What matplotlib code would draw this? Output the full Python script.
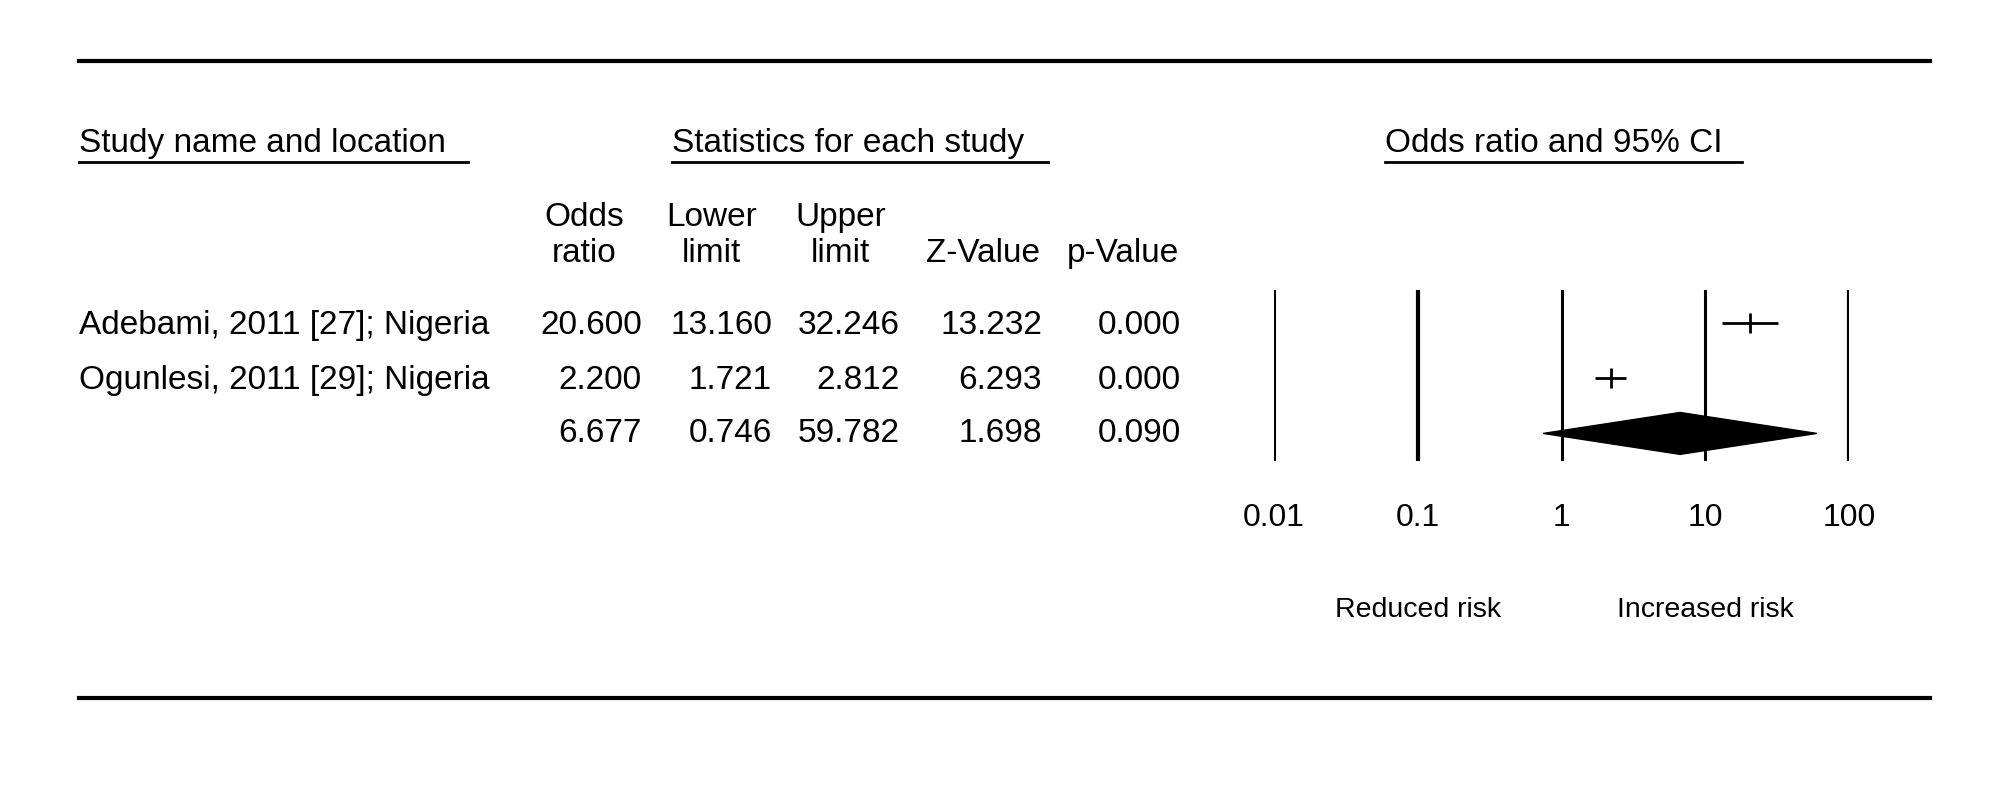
import numpy as np
import matplotlib
matplotlib.use("Agg")
import matplotlib.pyplot as plt
import matplotlib.transforms as mtransforms
from matplotlib.patches import Polygon

plt.rcParams['font.family'] = ['Liberation Sans', 'DejaVu Sans']

# data
studies = ["Adebami, 2011 [27]; Nigeria", "Ogunlesi, 2011 [29]; Nigeria"]
odds_ratio = [20.600, 2.200]
lower = [13.160, 1.721]
upper = [32.246, 2.812]
z_value = [13.232, 6.293]
p_value = [0.000, 0.000]

# pooled estimate
pooled = [6.677, 0.746, 59.782, 1.698, 0.090]

ticks = [0.01, 0.1, 1, 10, 100]
tick_labels = ["0.01", "0.1", "1", "10", "100"]
col_heads = ["Odds\nratio", "Lower\nlimit", "Upper\nlimit", "Z-Value", "p-Value"]

W, H = 2000, 809
fig = plt.figure(figsize=(W / 100, H / 100), dpi=100)


def fx(x):
    return x / W


def fy(y):
    return 1 - y / H


fs = 24

# horizontal rules
for y in (61, 698):
    fig.add_artist(plt.Line2D([fx(79), fx(1930)], [fy(y), fy(y)], color='black', lw=3))

# section headers with underline
headers = [("Study name and location", 79, 468),
           ("Statistics for each study", 672, 1048),
           ("Odds ratio and 95% CI", 1385, 1742)]
for txt, x0, x1 in headers:
    fig.text(fx(x0), fy(152), txt, fontsize=fs, ha='left', va='baseline')
    fig.add_artist(plt.Line2D([fx(x0), fx(x1)], [fy(162), fy(162)], color='black', lw=2))

# column headings and values
col_right = [642, 772, 900, 1042, 1181]
head_right = [624, 757, 886, 1040, 1179]
for head, xr in zip(col_heads, head_right):
    fig.text(fx(xr), fy(262), head, fontsize=fs, ha='right', va='baseline',
             multialignment='center', linespacing=1.2)

row_y = [325, 380, 434]
cols = [odds_ratio, lower, upper, z_value, p_value]
for i, name in enumerate(studies):
    fig.text(fx(79), fy(row_y[i]), name, fontsize=fs, ha='left', va='center')
    for vals, xr in zip(cols, col_right):
        fig.text(fx(xr), fy(row_y[i]), f"{vals[i]:.3f}", fontsize=fs, ha='right', va='center')
for v, xr in zip(pooled, col_right):
    fig.text(fx(xr), fy(row_y[2]), f"{v:.3f}", fontsize=fs, ha='right', va='center')

# forest plot panel
x_left, x_right = 1274, 1849
y_top, y_bot = 290, 461
ax = fig.add_axes([fx(x_left), fy(y_bot), fx(x_right - x_left), (y_bot - y_top) / H])
ax.set_xscale('log')
ax.set_xlim(0.01, 100)
ax.set_ylim(2.5, -0.6)
for s in ax.spines.values():
    s.set_visible(False)
ax.set_yticks([])

for t, lw in zip(ticks, [2.2, 3.0, 2.2, 2.2, 3.0]):
    ax.axvline(t, color='black', lw=lw)

ypos = np.arange(len(studies))
ax.hlines(ypos, lower, upper, color='black', lw=2)
ax.plot(odds_ratio, ypos, linestyle='none', marker='|', markersize=14, mew=2, color='black')

h = 0.38
diamond = Polygon([(pooled[1], 2), (pooled[0], 2 - h), (pooled[2], 2), (pooled[0], 2 + h)],
                  closed=True, facecolor='black', edgecolor='black')
ax.add_patch(diamond)

ax.set_xticks(ticks)
ax.set_xticklabels(tick_labels, fontsize=23)
ax.minorticks_off()
ax.tick_params(axis='x', length=0, pad=30)

trans = mtransforms.blended_transform_factory(ax.transData, fig.transFigure)
ax.text(0.1, fy(610), "Reduced risk", transform=trans, fontsize=20.5, ha='center', va='center')
ax.text(10, fy(610), "Increased risk", transform=trans, fontsize=20.5, ha='center', va='center')

fig.savefig("out.png", dpi=100, facecolor='white')
